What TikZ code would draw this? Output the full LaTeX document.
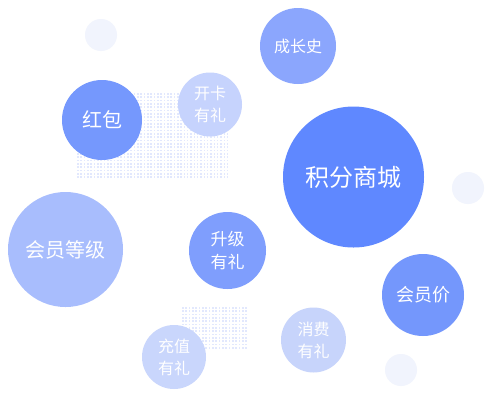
\documentclass[tikz,border=0pt]{standalone}
\usepackage{fontspec}
\setmainfont{Noto Sans CJK SC}
\definecolor{cMain}{HTML}{5F88FF}
\definecolor{cGrow}{HTML}{8BA6FD}
\definecolor{cRed}{HTML}{7598FD}
\definecolor{cOpen}{HTML}{C6D3FD}
\definecolor{cLevel}{HTML}{A8BDFD}
\definecolor{cUp}{HTML}{7F9EFD}
\definecolor{cPrice}{HTML}{7497FC}
\definecolor{cSpend}{HTML}{C7D4FB}
\definecolor{cCharge}{HTML}{C9D6FC}
\definecolor{cPale}{HTML}{F1F4FD}
\definecolor{cDot}{HTML}{E2E8FD}
\begin{document}
\begin{tikzpicture}[x=1pt,y=-1pt,
  bubble/.style={circle,inner sep=0pt,text=white,align=center},
  dotgrid/.style={fill=cDot}]
\useasboundingbox (0,0) rectangle (500,405);
\fill[white] (0,0) rectangle (500,405);
% dotted patches
\foreach \i in {0,...,45}{
  \foreach \j in {0,...,25}{
    \fill[dotgrid] (77+\i*3.33,93+\j*3.33) rectangle ++(1.6,1.6);
  }
}
\foreach \i in {0,...,19}{
  \foreach \j in {0,...,12}{
    \fill[dotgrid] (182+\i*3.33,307+\j*3.33) rectangle ++(1.6,1.6);
  }
}
% pale small circles
\node[bubble,fill=cPale,minimum size=32pt] (p1) at (101,35) {};
\node[bubble,fill=cPale,minimum size=32pt] (p2) at (468,188) {};
\node[bubble,fill=cPale,minimum size=32pt] (p3) at (401,370) {};
% bubbles
\node[bubble,fill=cMain,minimum size=141pt,font=\fontsize{24}{28}\selectfont] (main) at (353.5,177) {积分商城};
\node[bubble,fill=cGrow,minimum size=76pt,font=\fontsize{16}{20}\selectfont] (grow) at (298,46) {成长史};
\node[bubble,fill=cRed,minimum size=80pt,font=\fontsize{20}{24}\selectfont] (red) at (102,120) {红包};
\node[bubble,fill=cOpen,minimum size=64pt,font=\fontsize{16}{22}\selectfont] (open) at (210,104.5) {开卡\\有礼};
\node[bubble,fill=cLevel,minimum size=115pt,font=\fontsize{20}{24}\selectfont] (level) at (65.5,249.5) {会员等级};
\node[bubble,fill=cUp,minimum size=77pt,font=\fontsize{17}{23}\selectfont] (up) at (227.5,250.5) {升级\\有礼};
\node[bubble,fill=cPrice,minimum size=82pt,font=\fontsize{18}{22}\selectfont] (price) at (423,295) {会员价};
\node[bubble,fill=cSpend,minimum size=65pt,font=\fontsize{16}{22}\selectfont] (spend) at (313.5,340) {消费\\有礼};
\node[bubble,fill=cCharge,minimum size=64pt,font=\fontsize{16}{22}\selectfont] (charge) at (174,357) {充值\\有礼};
\end{tikzpicture}
\end{document}
